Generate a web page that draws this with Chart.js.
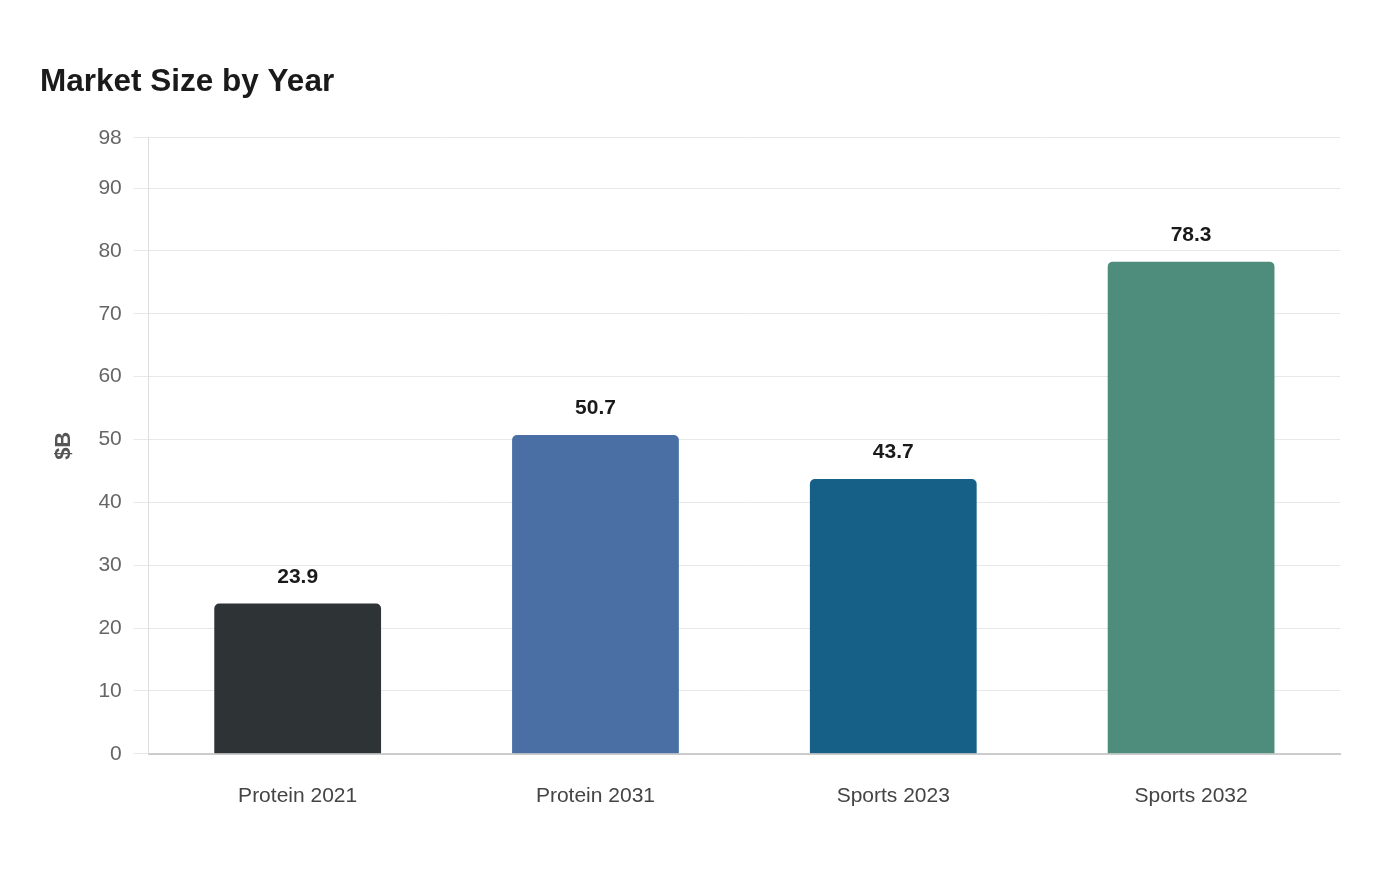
<!DOCTYPE html>
<html>
<head>
<meta charset="utf-8">
<script src="https://cdn.jsdelivr.net/npm/chart.js@4.4.1/dist/chart.umd.min.js"></script>
<style>
  html, body { margin: 0; padding: 0; background: #fff; }
  #wrap { width: 1400px; height: 880px; }
</style>
</head>
<body>
<div id="wrap"><canvas id="market"></canvas></div>
<script>
const categories = ['Protein 2021', 'Protein 2031', 'Sports 2023', 'Sports 2032'];
const marketSize = [23.9, 50.7, 43.7, 78.3];
const barColors = ['#2e3436', '#4a6fa5', '#166088', '#4e8d7c'];
const yMax = 98;

const fontStack = 'Arial, "Liberation Sans", Helvetica, sans-serif';
Chart.defaults.font.family = fontStack;

// draw value above each bar
const valueLabels = {
  id: 'valueLabels',
  afterDatasetsDraw(chart) {
    const ctx = chart.ctx;
    const meta = chart.getDatasetMeta(0);
    ctx.save();
    ctx.font = 'bold 21px ' + fontStack;
    ctx.fillStyle = '#1a1a1a';
    ctx.textAlign = 'center';
    ctx.textBaseline = 'alphabetic';
    meta.data.forEach((bar, i) => {
      ctx.fillText(marketSize[i].toFixed(1), bar.x, bar.y - 21);
    });
    ctx.restore();
  }
};

const ctx = document.getElementById('market');
new Chart(ctx, {
  type: 'bar',
  data: {
    labels: categories,
    datasets: [{
      data: marketSize,
      backgroundColor: barColors,
      borderRadius: { topLeft: 5, topRight: 5 },
      borderSkipped: 'bottom',
      barPercentage: 0.56,
      categoryPercentage: 1
    }]
  },
  options: {
    responsive: true,
    maintainAspectRatio: false,
    animation: false,
    layout: { padding: { left: 40, right: 60, top: 63, bottom: 49 } },
    scales: {
      x: {
        grid: { display: false },
        border: { color: '#cccccc', width: 2 },
        ticks: { color: '#444', font: { size: 21 }, padding: 22 }
      },
      y: {
        min: 0,
        max: yMax,
        ticks: { stepSize: 10, color: '#666', font: { size: 21 }, padding: 12 },
        grid: { color: '#e8e8e8', tickLength: 15 },
        border: { color: '#dddddd' },
        title: { display: true, text: '$B', color: '#555', font: { size: 22, weight: 'bold' }, padding: { top: 11, bottom: 9 } }
      }
    },
    plugins: {
      legend: { display: false },
      tooltip: { enabled: false },
      title: {
        display: true,
        text: 'Market Size by Year',
        align: 'start',
        color: '#1a1a1a',
        font: { size: 31.5, weight: 'bold' },
        padding: { top: 0, bottom: 37 }
      }
    }
  },
  plugins: [valueLabels]
});
</script>
</body>
</html>
